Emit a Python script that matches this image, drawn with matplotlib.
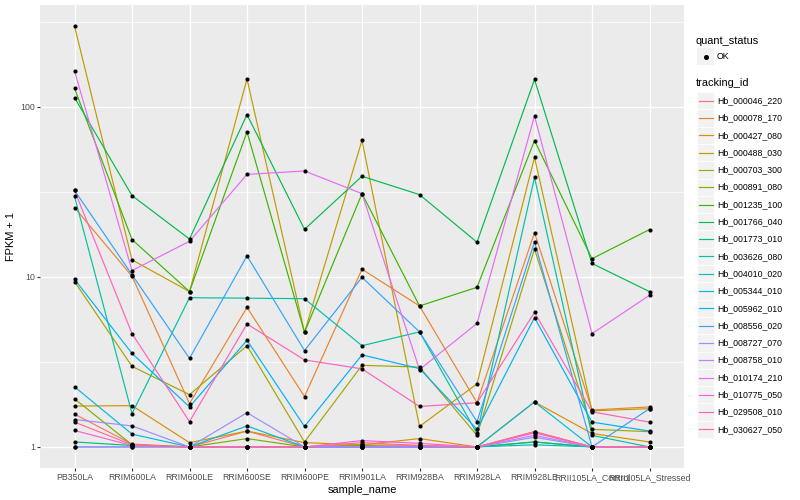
import matplotlib
matplotlib.use('Agg')
import matplotlib.pyplot as plt
import numpy as np
from matplotlib.lines import Line2D
from matplotlib.patches import Rectangle
from matplotlib.ticker import NullFormatter

plt.rcParams['font.family'] = ['Liberation Sans', 'DejaVu Sans']

samples = ["PB350LA", "RRIM600LA", "RRIM600LE", "RRIM600SE", "RRIM600PE",
           "RRIM901LA", "RRIM928BA", "RRIM928LA", "RRIM928LE",
           "RRII105LA_Control", "RRII105LA_Stressed"]

tracking_ids = ["Hb_000046_220", "Hb_000078_170", "Hb_000427_080", "Hb_000488_030",
                "Hb_000703_300", "Hb_000891_080", "Hb_001235_100", "Hb_001766_040",
                "Hb_001773_010", "Hb_003626_080", "Hb_004010_020", "Hb_005344_010",
                "Hb_005962_010", "Hb_008556_020", "Hb_008727_070", "Hb_008758_010",
                "Hb_010174_210", "Hb_010775_050", "Hb_029508_010", "Hb_030627_050"]

colors = ["#F8766D", "#EA8331", "#D89000", "#C09B00", "#A3A500", "#7CAE00", "#39B600",
          "#00BB4E", "#00BF7D", "#00C1A3", "#00BFC4", "#00BAE0", "#00B0F6", "#35A2FF",
          "#9590FF", "#C77CFF", "#E76BF3", "#FA62DB", "#FF62BC", "#FF6C91"]

# FPKM + 1 per tracking id, in sample order
hb_000046_220 = [1.56, 1.04, 1.0, 1.24, 1.0, 1.03, 1.02, 1.0, 1.23, 1.0, 1.0]
hb_000078_170 = [25.6, 10.1, 1.80, 6.62, 1.98, 11.1, 6.75, 1.82, 18.2, 1.65, 1.72]
hb_000427_080 = [1.74, 1.75, 1.06, 1.24, 1.06, 1.03, 1.12, 1.0, 1.84, 1.20, 1.07]
hb_000488_030 = [299, 12.6, 8.2, 146, 4.72, 63.6, 1.32, 2.35, 50.5, 1.63, 1.68]
hb_000703_300 = [9.4, 2.98, 2.03, 3.94, 1.07, 3.02, 2.95, 1.17, 14.6, 1.27, 1.23]
hb_000891_080 = [1.92, 1.03, 1.0, 1.12, 1.0, 1.02, 1.0, 1.0, 1.07, 1.0, 1.0]
hb_001235_100 = [128.6, 16.6, 8.2, 71.3, 4.72, 30.9, 6.75, 8.69, 63.4, 12.8, 19.0]
hb_001766_040 = [113.5, 30.1, 16.7, 90.1, 19.05, 39.1, 30.5, 16.0, 145, 12.0, 8.2]
hb_001773_010 = [1.07, 1.02, 1.0, 1.0, 1.0, 1.0, 1.0, 1.0, 1.07, 1.0, 1.0]
hb_003626_080 = [29.8, 1.57, 7.55, 7.5, 7.45, 3.94, 4.75, 1.20, 38.5, 1.17, 1.0]
hb_004010_020 = [1.0, 1.0, 1.0, 1.0, 1.0, 1.0, 1.0, 1.0, 1.03, 1.0, 1.0]
hb_005344_010 = [2.26, 1.19, 1.0, 1.33, 1.0, 1.0, 1.0, 1.0, 1.84, 1.0, 1.0]
hb_005962_010 = [9.7, 3.55, 1.72, 4.24, 1.32, 3.48, 2.89, 1.27, 5.76, 1.40, 1.24]
hb_008556_020 = [32.3, 10.3, 3.32, 13.3, 3.69, 9.95, 4.75, 1.41, 16.1, 1.0, 1.68]
hb_008727_070 = [1.45, 1.33, 1.0, 1.59, 1.0, 1.0, 1.0, 1.0, 1.14, 1.0, 1.0]
hb_008758_010 = [1.0, 1.0, 1.0, 1.0, 1.0, 1.0, 1.0, 1.0, 1.17, 1.0, 1.0]
hb_010174_210 = [163, 10.9, 16.2, 40.1, 42.0, 30.9, 2.85, 5.33, 88.5, 4.64, 7.8]
hb_010775_050 = [1.25, 1.02, 1.0, 1.0, 1.0, 1.09, 1.05, 1.0, 1.21, 1.0, 1.0]
hb_029508_010 = [32.3, 4.64, 1.41, 5.29, 3.25, 2.88, 1.73, 1.82, 6.19, 1.61, 1.40]
hb_030627_050 = [1.40, 1.03, 1.0, 1.0, 1.0, 1.06, 1.02, 1.0, 1.23, 1.0, 1.0]

series = [hb_000046_220, hb_000078_170, hb_000427_080, hb_000488_030, hb_000703_300,
          hb_000891_080, hb_001235_100, hb_001766_040, hb_001773_010, hb_003626_080,
          hb_004010_020, hb_005344_010, hb_005962_010, hb_008556_020, hb_008727_070,
          hb_008758_010, hb_010174_210, hb_010775_050, hb_029508_010, hb_030627_050]

W, H = 800, 500
fig = plt.figure(figsize=(W / 100, H / 100), dpi=100)
ax = fig.add_axes([40 / W, 1 - 468 / H, 644 / W, 463 / H])
ax.set_facecolor('#EBEBEB')

x = np.arange(len(samples))
for vals, c in zip(series, colors):
    ax.plot(x, vals, color=c, lw=0.85, zorder=2, solid_capstyle='butt')
for vals in series:
    ax.scatter(x, vals, s=9, color='black', linewidths=0, zorder=3)

ax.set_yscale('log')
allv = np.concatenate([np.array(s, dtype=float) for s in series])
lo, hi = np.log10(allv.min()), np.log10(allv.max())
pad = 0.05 * (hi - lo)
ax.set_ylim(10 ** (lo - pad), 10 ** (hi + pad))
ax.set_xlim(-0.6, len(samples) - 1 + 0.6)

ax.set_yticks([1, 10, 100])
ax.set_yticklabels(['1', '10', '100'])
ax.set_yticks([10 ** 0.5, 10 ** 1.5, 10 ** 2.5], minor=True)
ax.yaxis.set_minor_formatter(NullFormatter())
ax.set_xticks(x)
ax.set_xticklabels(samples)

ax.grid(which='major', color='white', lw=1.0)
ax.grid(which='minor', axis='y', color='white', lw=0.5)
ax.set_axisbelow(True)
for sp in ax.spines.values():
    sp.set_visible(False)
ax.tick_params(which='major', labelsize=6.3, color='#333333', labelcolor='#4D4D4D',
               length=2.0, width=0.8, pad=1.5)
ax.tick_params(which='minor', length=0)

ax.set_xlabel('sample_name', fontsize=7.9, color='black', labelpad=2)
ax.set_ylabel('FPKM + 1', fontsize=7.9, color='black', labelpad=3)

# legends (ggplot style)
def fx(px):
    return px / W

def fy(py):
    return 1 - py / H

key = 17.3
kx0 = 697
fig.text(fx(696), fy(40.7), 'quant_status', fontsize=7.9, va='center', ha='left')
fig.add_artist(Rectangle((fx(kx0), fy(56.7 + key / 2)), key / W, key / H,
                         transform=fig.transFigure, facecolor='#F2F2F2', edgecolor='none'))
fig.add_artist(Line2D([fx(kx0 + key / 2)], [fy(56.7)], marker='o', markersize=2.6,
                      color='black', linestyle='none', transform=fig.transFigure))
fig.text(fx(717), fy(56.7), 'OK', fontsize=6.3, va='center', ha='left')

fig.text(fx(696), fy(83.3), 'tracking_id', fontsize=7.9, va='center', ha='left')
y0 = 100.7
for i, (tid, c) in enumerate(zip(tracking_ids, colors)):
    yc = y0 + i * key
    fig.add_artist(Rectangle((fx(kx0), fy(yc + key / 2)), key / W, key / H,
                             transform=fig.transFigure, facecolor='#F2F2F2',
                             edgecolor='white', linewidth=0.5))
    fig.add_artist(Line2D([fx(kx0 + 1.5), fx(kx0 + key - 1.5)], [fy(yc), fy(yc)],
                          color=c, lw=0.85, transform=fig.transFigure))
    fig.text(fx(717), fy(yc), tid, fontsize=6.3, va='center', ha='left')

fig.savefig('out.png', dpi=100)
